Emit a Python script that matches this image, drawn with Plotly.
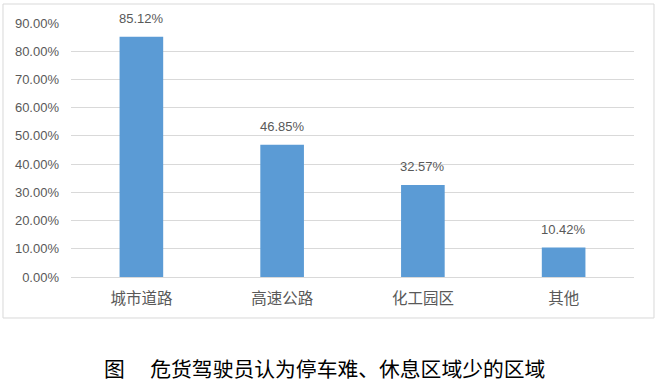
import plotly.graph_objects as go

categories = ["城市道路", "高速公路", "化工园区", "其他"]
values = [85.12, 46.85, 32.57, 10.42]
tick_vals = [0, 10, 20, 30, 40, 50, 60, 70, 80, 90]
tick_text = [f"{v:.2f}%" for v in tick_vals]
caption = "图　 危货驾驶员认为停车难、休息区域少的区域"

FONT = "Liberation Sans, Arial, Noto Sans CJK SC, sans-serif"
CJK = "Noto Sans CJK SC, Liberation Sans, sans-serif"

fig = go.Figure()
fig.add_trace(go.Bar(
    x=categories, y=values,
    marker=dict(color="#5b9bd5", line=dict(width=0)),
    width=0.31,
))

for c, v in zip(categories, values):
    fig.add_annotation(x=c, y=v, text=f"{v:.2f}%", showarrow=False,
                       yanchor="bottom", yshift=9,
                       font=dict(family=FONT, size=13, color="#595959"))

fig.add_annotation(xref="paper", yref="paper", x=0.4511, y=-0.358,
                   text=caption, showarrow=False, xanchor="center", yanchor="middle",
                   font=dict(family=CJK, size=20.8, color="#000000"))

fig.add_shape(type="rect", xref="paper", yref="paper",
              x0=-0.1208, x1=1.0355, y0=-0.1614, y1=1.0748,
              line=dict(color="#d9d9d9", width=1), fillcolor="rgba(0,0,0,0)", layer="below")

fig.update_layout(
    width=660, height=382,
    margin=dict(l=71, r=26, t=23, b=105),
    paper_bgcolor="white", plot_bgcolor="white",
    showlegend=False,
    bargap=0.69,
    xaxis=dict(showgrid=False, showline=False, ticks="", ticklabelstandoff=10,
               tickfont=dict(family=CJK, size=15.5, color="#595959")),
    yaxis=dict(range=[0, 90], tickvals=tick_vals, ticktext=tick_text,
               showgrid=True, gridcolor="#d9d9d9", gridwidth=1,
               zeroline=True, zerolinecolor="#d9d9d9", zerolinewidth=1,
               showline=False, ticks="", ticklabelstandoff=11,
               tickfont=dict(family=FONT, size=13, color="#595959")),
)

fig.write_html("out.html")
